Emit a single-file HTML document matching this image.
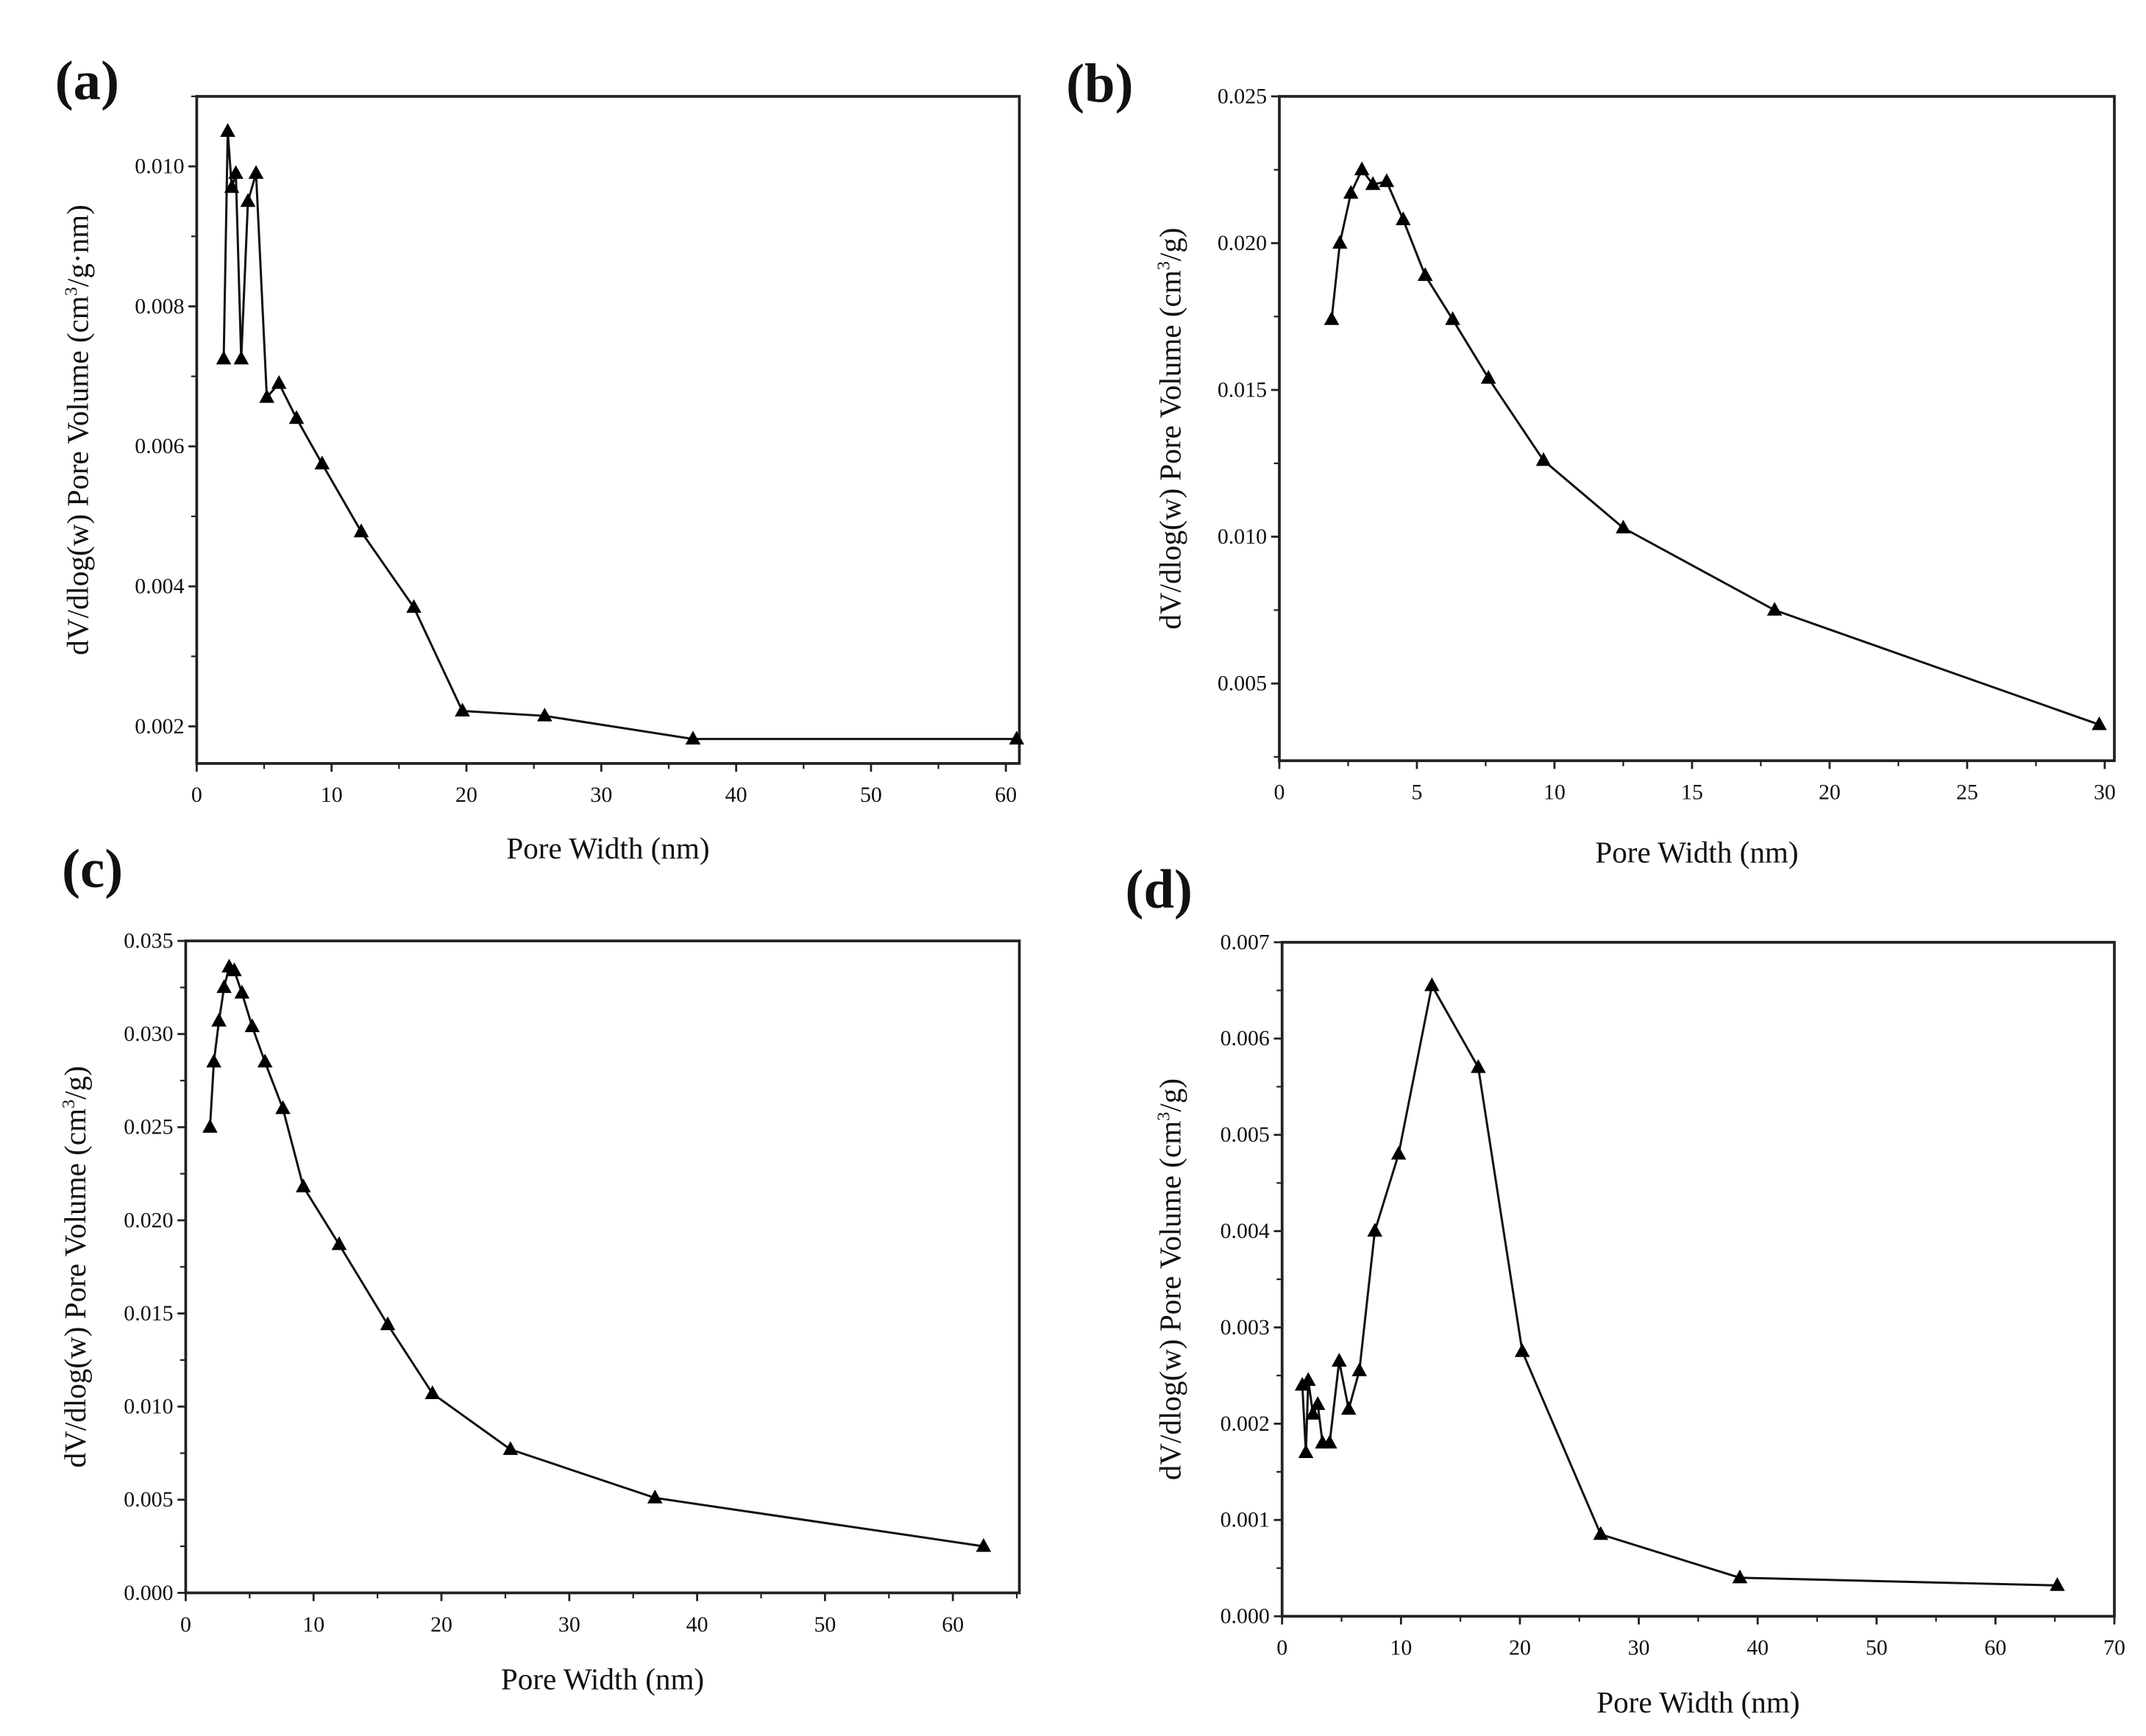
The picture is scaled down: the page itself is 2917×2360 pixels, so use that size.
<!DOCTYPE html>
<html><head><meta charset="utf-8"><style>
html,body{margin:0;padding:0;background:#fff;}
svg{display:block;}
text{font-family:"Liberation Serif",serif;fill:#111;}
</style></head><body>
<svg id="fig" width="2917" height="2360" viewBox="0 0 1560 1262" xmlns="http://www.w3.org/2000/svg"></svg>
<script>
// Panel (a)
const aX = [2.0,2.3,2.6,2.9,3.3,3.8,4.4,5.2,6.1,7.4,9.3,12.2,16.1,19.7,25.8,36.8,60.8];
const aY = [0.00725,0.0105,0.0097,0.0099,0.00725,0.0095,0.0099,0.0067,0.0069,0.0064,0.00575,0.00478,0.0037,0.00222,0.00215,0.00182,0.00182];
const aXTicks = [0,10,20,30,40,50,60];
const aYTicks = [0.002,0.004,0.006,0.008,0.010];
// Panel (b)
const bX = [1.9,2.2,2.6,3.0,3.4,3.9,4.5,5.3,6.3,7.6,9.6,12.5,18.0,29.8];
const bY = [0.0174,0.0200,0.0217,0.0225,0.0220,0.0221,0.0208,0.0189,0.0174,0.0154,0.0126,0.0103,0.0075,0.0036];
const bXTicks = [0,5,10,15,20,25,30];
const bYTicks = [0.005,0.010,0.015,0.020,0.025];
// Panel (c)
const cX = [1.9,2.2,2.6,3.0,3.4,3.8,4.4,5.2,6.2,7.6,9.2,12.0,15.8,19.3,25.4,36.7,62.4];
const cY = [0.025,0.0285,0.0307,0.0325,0.0336,0.0334,0.0322,0.0304,0.0285,0.026,0.0218,0.0187,0.0144,0.0107,0.0077,0.0051,0.0025];
const cXTicks = [0,10,20,30,40,50,60];
const cYTicks = [0.000,0.005,0.010,0.015,0.020,0.025,0.030,0.035];
// Panel (d)
const dX = [1.7,2.0,2.2,2.6,3.0,3.4,4.0,4.8,5.6,6.5,7.8,9.8,12.6,16.5,20.2,26.8,38.5,65.2];
const dY = [0.0024,0.0017,0.00245,0.0021,0.0022,0.0018,0.0018,0.00265,0.00215,0.00255,0.004,0.0048,0.00655,0.0057,0.00275,0.00085,0.0004,0.00032];
const dXTicks = [0,10,20,30,40,50,60,70];
const dYTicks = [0.000,0.001,0.002,0.003,0.004,0.005,0.006,0.007];

const NS="http://www.w3.org/2000/svg";
const svg=document.getElementById('fig');
function mk(tag,attrs,parent){const e=document.createElementNS(NS,tag);for(const k in attrs)e.setAttribute(k,attrs[k]);(parent||svg).appendChild(e);return e;}

function panel(id,label,lx,ly,box,xd,yd,xt,yt,xs,ys,ydec,ytitle,xtitleY,ytitleX){
  const g=mk('g',{});
  
  
  const [L,R,T,B]=box;
  const sx=v=>L+(v-xd[0])/(xd[1]-xd[0])*(R-L);
  const sy=v=>B-(v-yd[0])/(yd[1]-yd[0])*(B-T);
  const lab=mk('text',{x:lx,y:ly,'font-size':40,'font-weight':'bold'},g);lab.textContent=label;
  
  
  const frame=mk('rect',{x:L,y:T,width:R-L,height:B-T,fill:'none',stroke:'#222','stroke-width':2},g);
  
  
  // x ticks
  const xstep=xt[1]-xt[0];
  for(let i=0;i<xt.length;i++){
    const v=xt[i];const x=sx(v);
    mk('line',{x1:x,y1:B,x2:x,y2:B+6,stroke:'#222','stroke-width':1.5},g);
    const mv=v+xstep/2; if(mv<=xd[1]){const mx=sx(mv);mk('line',{x1:mx,y1:B,x2:mx,y2:B+4,stroke:'#222','stroke-width':1.2},g);}
    const t=mk('text',{x:x,y:B+28,'font-size':16,'text-anchor':'middle'},g);t.textContent=v;
    
    
  }
  const ystep=yt[1]-yt[0];
  for(let i=0;i<yt.length;i++){
    const v=yt[i];const y=sy(v);
    mk('line',{x1:L,y1:y,x2:L-6,y2:y,stroke:'#222','stroke-width':1.5},g);
    const mv=v+ystep/2; if(mv<=yd[1]){const my=sy(mv);mk('line',{x1:L,y1:my,x2:L-4,y2:my,stroke:'#222','stroke-width':1.2},g);}
    const mv2=v-ystep/2; if(i===0&&mv2>=yd[0]){const my=sy(mv2);mk('line',{x1:L,y1:my,x2:L-4,y2:my,stroke:'#222','stroke-width':1.2},g);}
    const t=mk('text',{x:L-9,y:y+5,'font-size':16,'text-anchor':'end'},g);t.textContent=v.toFixed(ydec);
    
    
  }
  const xtl=mk('text',{x:(L+R)/2,y:xtitleY,'font-size':22,'text-anchor':'middle'},g);xtl.textContent='Pore Width (nm)';
  
  
  const ytl=mk('text',{x:0,y:0,'font-size':22,'text-anchor':'middle',transform:`translate(${ytitleX},${(T+B)/2}) rotate(-90)`},g);
  ytl.innerHTML=ytitle;
  
  
  const pts=xs.map((v,i)=>sx(v)+','+sy(ys[i])).join(' ');
  const line=mk('polyline',{points:pts,fill:'none',stroke:'#111','stroke-width':1.6},g);
  
  
  xs.forEach((v,i)=>{const x=sx(v),y=sy(ys[i]);
    const m=mk('polygon',{points:`${x},${y-6} ${x-5.5},${y+4} ${x+5.5},${y+4}`,fill:'#000'},g);
    
    
  });
}
const yt1='dV/dlog(w) Pore Volume (cm<tspan font-size="13" dy="-8">3</tspan><tspan dy="8">/g·nm)</tspan>';
const yt2='dV/dlog(w) Pore Volume (cm<tspan font-size="13" dy="-8">3</tspan><tspan dy="8">/g)</tspan>';
panel('a','(a)',40,72,[143,741,70,555],[0,61],[0.00147,0.011],aXTicks,aYTicks,aX,aY,3,yt1,624,64);
panel('b','(b)',775,74,[930,1537,70,553],[0,30.35],[0.00237,0.025],bXTicks,bYTicks,bX,bY,3,yt2,627,858);
panel('c','(c)',45,645,[135,741,684,1158],[0,65.2],[0,0.035],cXTicks,cYTicks,cX,cY,3,yt2,1228,62);
panel('d','(d)',818,660,[932,1537,685,1175],[0,70],[0,0.007],dXTicks,dYTicks,dX,dY,3,yt2,1245,858);
</script>
</body></html>
